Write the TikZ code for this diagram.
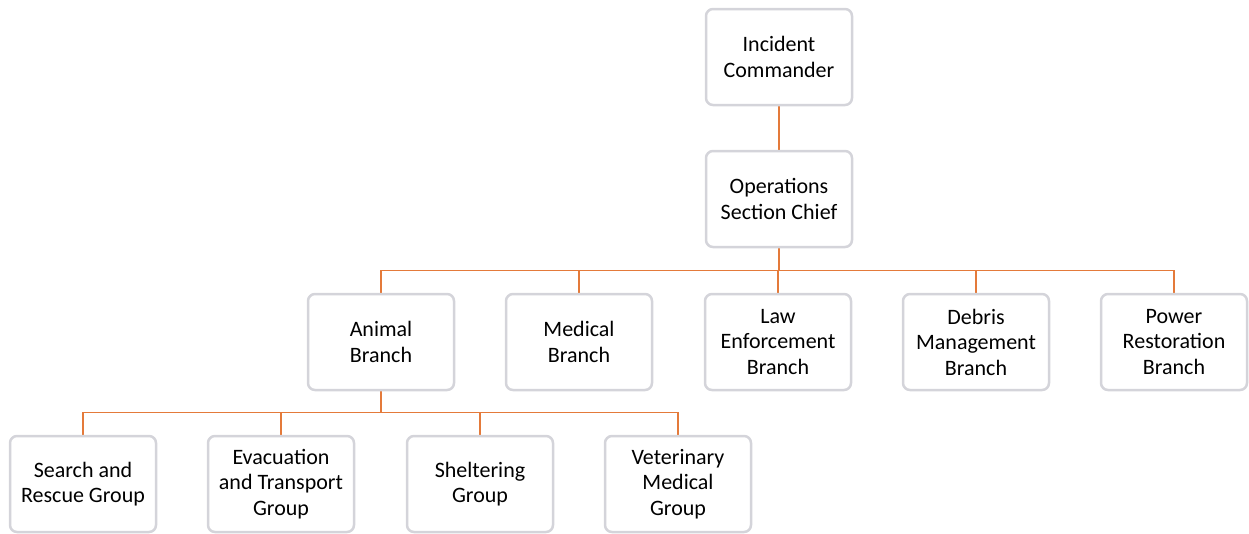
\documentclass[tikz,border=0pt]{standalone}
\usepackage{fontspec}
\setmainfont{Carlito}
\usetikzlibrary{backgrounds}

\definecolor{linkorange}{RGB}{228,122,58}
\definecolor{bevelgray}{RGB}{212,212,218}

\tikzset{
	unit/.style={draw=bevelgray, line width=2.5pt, fill=white, rounded corners=7pt,
		minimum width=146pt, minimum height=96pt, inner sep=1pt,
		align=center, font=\fontsize{22}{25.5}\selectfont},
	link/.style={draw=linkorange, line width=1.3pt}
}

\begin{document}
\begin{tikzpicture}[x=1pt, y=-1pt]
\useasboundingbox (0,0) rectangle (1249,533);

% El cap de tot
\node [unit] (IC)  at (779, 57)  {Incident\\Commander};
\node [unit] (OSC) at (779, 199) {Operations\\Section Chief};
%%%%%%%%%%%%%%%%%%%%%%%%%%%%%%%%%%%%%%%%%%%%%%%%%%%%%%%%%%%%%%%%%%%%%%%%
% Branques
\node [unit] (Animal)  at (381, 342)  {Animal\\Branch};
\node [unit] (Medical) at (579, 342)  {Medical\\Branch};
\node [unit] (Law)     at (778, 342)  {Law\\Enforcement\\Branch};
\node [unit] (Debris)  at (976, 342)  {Debris\\Management\\Branch};
\node [unit] (Power)   at (1174, 342) {Power\\Restoration\\Branch};
%%%%%%%%%%%%%%%%%%%%%%%%%%%%%%%%%%%%%%%%%%%%%%%%%%%%%%%%%%%%%%%%%%%%%%%%
% Grups de la branca animal
\node [unit] (Search)   at (83, 484)  {Search and\\Rescue Group};
\node [unit] (Evac)     at (281, 484) {Evacuation\\and Transport\\Group};
\node [unit] (Shelter)  at (480, 484) {Sheltering\\Group};
\node [unit] (Vet)      at (678, 484) {Veterinary\\Medical\\Group};
%%%%%%%%%%%%%%%%%%%%%%%%%%%%%%%%%%%%%%%%%%%%%%%%%%%%%%%%%%%%%%%%%%%%%%%%

%%%%%%%%%%%%%%%%%%%%%%%%%%%%%%%%%%%%%%%%%%%%%%%%%%%%%%%%%%%%%%%%%%%%%%%%
% Connexions
%%%%%%%%%%%%%%%%%%%%%%%%%%%%%%%%%%%%%%%%%%%%%%%%%%%%%%%%%%%%%%%%%%%%%%%%
\begin{pgfonlayer}{background}
\draw [link] (IC) -- (OSC);
\foreach \b in {Animal, Medical, Law, Debris, Power}
	\draw [link] (OSC.south) -- ++(0,22) -| (\b.north);
\foreach \g in {Search, Evac, Shelter, Vet}
	\draw [link] (Animal.south) -- ++(0,21) -| (\g.north);
\end{pgfonlayer}

\end{tikzpicture}
\end{document}
